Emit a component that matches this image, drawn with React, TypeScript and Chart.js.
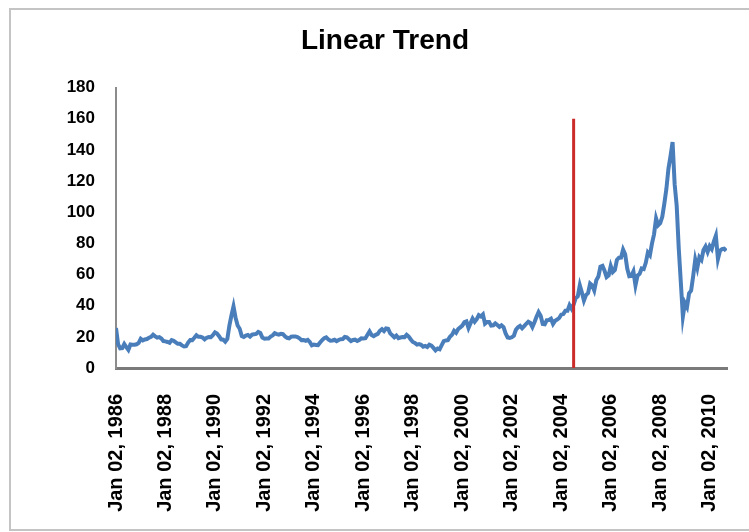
import React, { useEffect, useRef } from "react";
import { Chart, registerables } from "chart.js";

Chart.register(...registerables);

const TITLE = "Linear Trend";
const START_YEAR = 1986;

// Monthly WTI-style prices (USD/bbl)
const p1986 = [25.6, 15.4, 12.6, 12.8, 15.4, 13.4, 11.6, 15.1, 14.9, 14.9, 15.2, 16.1];
const p1987 = [18.7, 17.7, 18.3, 18.6, 19.4, 20.0, 21.4, 20.3, 19.5, 19.8, 18.9, 17.3];
const p1988 = [17.1, 16.7, 16.2, 17.9, 17.4, 16.5, 15.5, 15.5, 14.5, 13.8, 14.0, 16.3];
const p1989 = [18.0, 17.9, 19.4, 21.0, 20.0, 20.0, 19.6, 18.4, 19.4, 19.9, 19.8, 21.1];
const p1990 = [22.9, 22.1, 20.4, 18.4, 18.2, 16.9, 18.6, 27.2, 33.7, 39.5, 32.3, 27.3];
const p1991 = [25.2, 20.5, 19.9, 20.8, 21.2, 20.2, 21.4, 21.7, 21.9, 23.2, 22.5, 19.5];
const p1992 = [18.8, 19.0, 18.9, 20.2, 20.9, 22.4, 21.8, 21.4, 21.9, 21.7, 20.3, 19.4];
const p1993 = [19.1, 20.1, 20.3, 20.3, 19.9, 19.1, 17.9, 18.0, 17.5, 18.1, 16.7, 14.5];
const p1994 = [15.0, 14.8, 14.7, 16.4, 17.9, 19.1, 19.7, 18.4, 17.5, 17.7, 18.1, 17.2];
const p1995 = [18.0, 18.5, 18.6, 19.9, 19.7, 18.5, 17.3, 18.0, 18.2, 17.4, 18.0, 19.0];
const p1996 = [18.9, 19.1, 21.3, 23.5, 21.2, 20.4, 21.3, 21.9, 23.9, 24.9, 23.7, 25.4];
const p1997 = [25.2, 22.2, 21.0, 19.7, 20.8, 19.2, 19.6, 19.9, 19.8, 21.3, 20.2, 18.3];
const p1998 = [16.7, 16.1, 15.0, 15.4, 14.9, 13.7, 14.2, 13.5, 15.0, 14.4, 12.9, 11.3];
const p1999 = [12.5, 12.0, 14.7, 17.3, 17.7, 17.9, 20.1, 21.3, 23.9, 22.6, 25.0, 26.1];
const p2000 = [27.2, 29.4, 29.9, 25.7, 28.8, 31.8, 29.7, 31.3, 33.9, 33.1, 34.4, 28.5];
const p2001 = [29.6, 29.6, 27.2, 27.4, 28.6, 27.6, 26.4, 27.4, 26.2, 22.2, 19.6, 19.3];
const p2002 = [19.7, 20.7, 24.5, 26.2, 27.0, 25.5, 26.9, 28.4, 29.7, 28.9, 26.3, 29.4];
const p2003 = [32.9, 35.9, 33.6, 28.3, 28.1, 30.7, 30.8, 31.6, 28.3, 30.3, 31.1, 32.1];
const p2004 = [34.3, 34.7, 36.7, 36.7, 40.3, 38.0, 40.7, 44.9, 45.9, 53.1, 48.5, 43.3];
const p2005 = [46.8, 48.1, 54.2, 53.0, 49.8, 56.3, 58.7, 65.0, 65.6, 62.4, 58.3, 59.4];
const p2006 = [65.5, 61.6, 62.9, 69.4, 70.8, 70.9, 76.0, 73.0, 63.8, 58.9, 59.1, 62.0];
const p2007 = [53.0, 59.3, 60.4, 63.9, 63.5, 67.5, 74.1, 72.4, 79.9, 85.8, 96.0, 91.7];
const p2008 = [93.0, 97.0, 105.5, 115.0, 128.0, 136.0, 145.0, 118.0, 104.1, 76.6, 55.0, 33.0];
const p2009 = [41.7, 39.1, 47.9, 49.7, 59.0, 69.6, 64.2, 71.1, 69.4, 75.7, 78.0, 74.5];
const p2010 = [78.3, 76.4, 81.2, 85.0, 70.0, 75.3, 76.3, 76.6, 75.2];

const yearlyPrices = [
  p1986, p1987, p1988, p1989, p1990, p1991, p1992, p1993, p1994,
  p1995, p1996, p1997, p1998, p1999, p2000, p2001, p2002, p2003,
  p2004, p2005, p2006, p2007, p2008, p2009, p2010,
];

const xTickYears = [1986, 1988, 1990, 1992, 1994, 1996, 1998, 2000, 2002, 2004, 2006, 2008, 2010];
const yTickValues = [0, 20, 40, 60, 80, 100, 120, 140, 160, 180];
const X_MIN = 1986;
const X_MAX = 2010.7;
const markerYear = 2004.5;
const markerTop = 160;

export default function App() {
  const ref = useRef<HTMLCanvasElement>(null);

  useEffect(() => {
    const points: { x: number; y: number }[] = [];
    yearlyPrices.forEach((arr, i) =>
      arr.forEach((v, m) => points.push({ x: START_YEAR + i + m / 12, y: v }))
    );
    const chart = new Chart(ref.current as HTMLCanvasElement, {
      type: "line",
      data: {
        datasets: [
          {
            data: [
              { x: markerYear, y: 0 },
              { x: markerYear, y: markerTop },
            ],
            borderColor: "#cc2b2b",
            borderWidth: 3,
            pointRadius: 0,
            order: 0,
          },
          {
            data: points,
            borderColor: "#4a7ebb",
            borderWidth: 4,
            pointRadius: 0,
            tension: 0,
            order: 1,
          },
        ],
      },
      options: {
        responsive: false,
        animation: false,
        layout: { padding: { left: 43, right: 22, top: 0, bottom: 0 } },
        plugins: {
          legend: { display: false },
          tooltip: { enabled: false },
          title: {
            display: true,
            text: TITLE,
            color: "#000",
            font: { family: "'Liberation Sans', Arial, sans-serif", size: 28, weight: "bold" },
            padding: { top: 24, bottom: 30 },
          },
        },
        scales: {
          x: {
            type: "linear",
            min: X_MIN,
            max: X_MAX,
            grid: { display: false, drawTicks: false },
            border: { display: true, color: "#7a7a7a", width: 3 },
            afterBuildTicks: (s: any) => {
              s.ticks = xTickYears.map((v) => ({ value: v }));
            },
            afterFit: (s: any) => {
              s.height = 164;
              s.paddingLeft = 0;
              s.paddingRight = 0;
            },
            ticks: {
              autoSkip: false,
              minRotation: 90,
              maxRotation: 90,
              padding: 26,
              color: "#000",
              font: { family: "'Liberation Sans', Arial, sans-serif", size: 20, weight: "bold" },
              callback: (v: any) => `Jan 02, ${v}`,
            },
          },
          y: {
            min: 0,
            max: 180,
            grid: { display: false, drawTicks: false },
            border: { display: true, color: "#8c8c8c", width: 2 },
            afterBuildTicks: (s: any) => {
              s.ticks = yTickValues.map((v) => ({ value: v }));
            },
            afterFit: (s: any) => {
              s.width = 73;
            },
            ticks: {
              padding: 21,
              color: "#000",
              font: { family: "'Liberation Sans', Arial, sans-serif", size: 17, weight: "bold" },
            },
          },
        },
      },
    });
    return () => chart.destroy();
  }, []);

  return (
    <div style={{ position: "fixed", left: 0, top: 0, width: 749, height: 532, background: "#fff", overflow: "hidden" }}>
      <div
        style={{
          position: "absolute",
          left: 9,
          top: 8,
          width: 760,
          height: 523,
          border: "2px solid #c4c4c4",
          boxSizing: "border-box",
        }}
      />
      <canvas ref={ref} width={749} height={532} style={{ position: "absolute", left: 0, top: 0, display: "block" }} />
    </div>
  );
}
